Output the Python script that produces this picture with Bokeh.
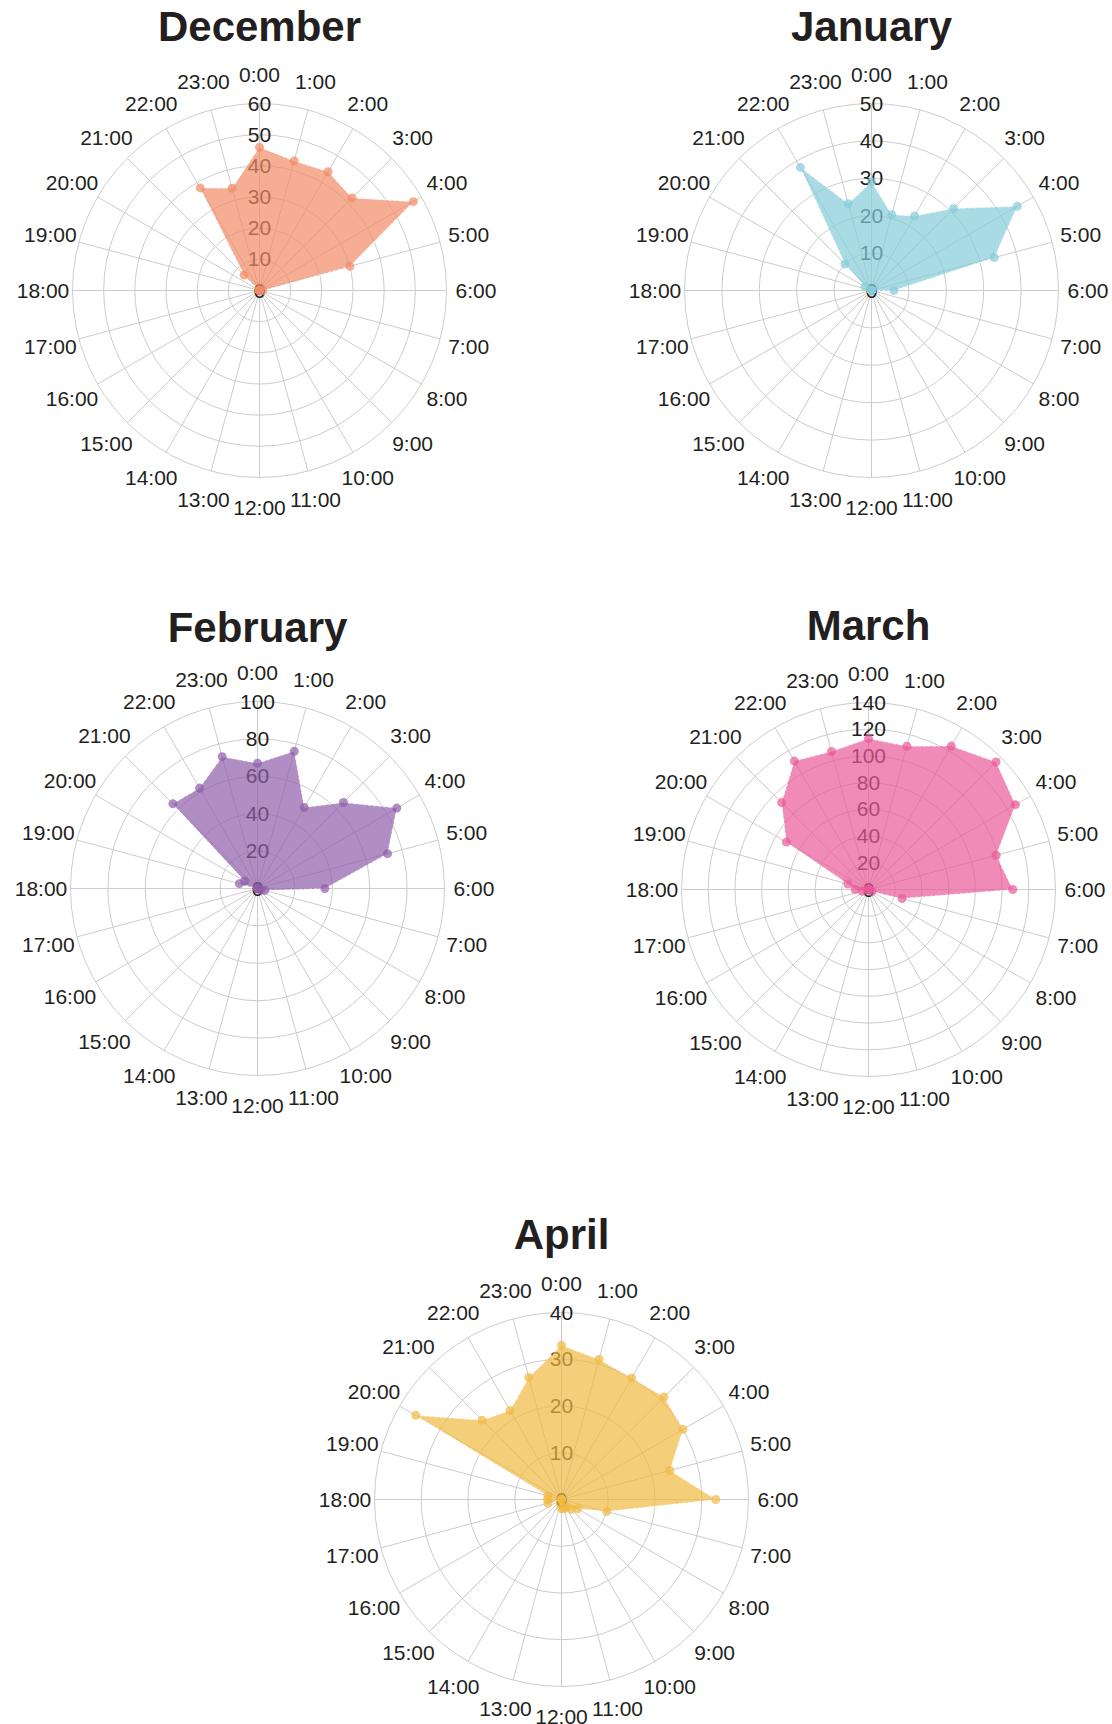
import math
from bokeh.plotting import figure
from bokeh.models import Range1d
from bokeh.core.properties import value
from bokeh.embed import file_html
from bokeh.resources import INLINE

# ---------------- data ----------------
hours = ["0:00", "1:00", "2:00", "3:00", "4:00", "5:00", "6:00", "7:00",
         "8:00", "9:00", "10:00", "11:00", "12:00", "13:00", "14:00", "15:00",
         "16:00", "17:00", "18:00", "19:00", "20:00", "21:00", "22:00", "23:00"]

months = ["December", "January", "February", "March", "April"]

december = [46, 43, 44, 42, 57, 30, 1, 0, 0, 0, 0, 0, 0, 0, 0, 0, 0, 0, 0, 0, 0, 7, 38, 34]
january = [29, 21, 23, 31, 45, 34, 6, 0, 0, 0, 0, 0, 0, 0, 0, 0, 0, 0, 0, 0, 2, 10, 38, 24]
february = [67, 76, 50, 65, 86, 72, 36, 4, 2, 0, 0, 0, 0, 0, 0, 0, 0, 0, 0, 10, 8, 64, 62, 73]
march = [113, 111, 124, 135, 127, 99, 108, 26, 3, 0, 0, 0, 0, 0, 0, 0, 0, 5, 10, 16, 71, 92, 111, 107]
april = [33, 31, 30, 31, 30, 24, 33, 10, 4, 3, 2, 2, 2, 1, 0, 0, 0, 3, 3, 3, 36, 24, 22, 27]

series = [december, january, february, march, april]

# radial scale of each chart: maximum and tick step
axis_max = [60, 50, 100, 140, 40]
axis_step = [10, 10, 20, 20, 10]

# ---------------- style / layout ----------------
fill_colors = ["#F18A66", "#84CCDA", "#8E5CA8", "#EA5899", "#F1B941"]
centers = [(259, 290), (871, 290), (257, 888), (868, 889), (561, 1499)]
title_y = [25.5, 26, 626.5, 625, 1234]
RADIUS = 187.0
LABEL_R = 216.5
FONT = "Liberation Sans"
TEXT_COLOR = "#231F20"
GRID_COLOR = "#CCCCCC"

W, H = 1112, 1724
p = figure(width=W, height=H, output_backend="svg", toolbar_location=None,
           x_range=Range1d(0, W), y_range=Range1d(H, 0),
           x_axis_type=None, y_axis_type=None, min_border=0)
p.outline_line_color = None
p.grid.visible = False
p.background_fill_color = "white"

n = len(hours)
angles = [2 * math.pi * i / n for i in range(n)]

for k, name in enumerate(months):
    cx, cy = centers[k]
    vmax = axis_max[k]
    step = axis_step[k]
    vals = series[k]
    col = fill_colors[k]
    scale = RADIUS / vmax

    # grid rings
    ring_vals = list(range(step, vmax + step, step))
    p.circle(x=[cx] * len(ring_vals), y=[cy] * len(ring_vals),
             radius=[v * scale for v in ring_vals],
             fill_color=None, line_color=GRID_COLOR, line_width=1)
    # spokes
    p.segment(x0=[cx] * n, y0=[cy] * n,
              x1=[cx + RADIUS * math.sin(a) for a in angles],
              y1=[cy - RADIUS * math.cos(a) for a in angles],
              line_color=GRID_COLOR, line_width=1)

    # radial value labels
    tick_vals = list(range(0, vmax + step, step))
    p.text(x=[cx] * len(tick_vals), y=[cy - v * scale for v in tick_vals],
           text=[str(v) for v in tick_vals],
           text_font=value(FONT), text_font_size="21px",
           text_align="center", text_baseline="middle", text_color=TEXT_COLOR)

    # data polygon
    xs = [cx + v * scale * math.sin(a) for v, a in zip(vals, angles)]
    ys = [cy - v * scale * math.cos(a) for v, a in zip(vals, angles)]
    p.patch(xs, ys, fill_color=col, fill_alpha=0.7, line_color=None)
    p.line(xs + [xs[0]], ys + [ys[0]], line_color="white", line_alpha=0.6,
           line_width=1, line_dash="3 2")
    p.scatter(xs, ys, size=9, fill_color=col, fill_alpha=0.7, line_color=None)

    # hour labels
    p.text(x=[cx + LABEL_R * math.sin(a) for a in angles],
           y=[cy - LABEL_R * math.cos(a) for a in angles],
           text=hours, text_font=value(FONT), text_font_size="21px",
           text_align="center", text_baseline="middle", text_color=TEXT_COLOR)

    # title
    p.text(x=[cx], y=[title_y[k]], text=[name],
           text_font=value(FONT), text_font_size="42px", text_font_style="bold",
           text_align="center", text_baseline="middle", text_color=TEXT_COLOR)

open("out.html", "w").write(file_html(p, INLINE))
